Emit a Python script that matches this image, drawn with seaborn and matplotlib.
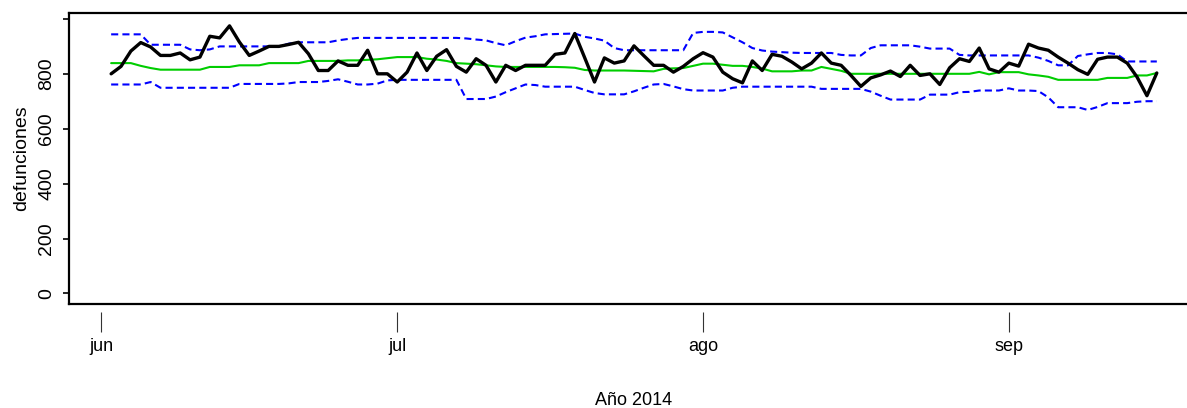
import numpy as np
import pandas as pd
import seaborn as sns
import matplotlib.pyplot as plt
import matplotlib.dates as mdates

# daily values (2 jun - 16 sep 2014)
fechas = pd.date_range("2014-06-02", periods=107, freq="D")

defunciones = [
    801, 828, 884, 915, 899, 868, 868, 877, 852, 862,
    938, 932, 976, 917, 868, 884, 901, 901, 908, 916,
    874, 813, 813, 848, 832, 832, 887, 801, 801, 771,
    807, 877, 813, 865, 889, 828, 807, 856, 832, 771,
    832, 813, 832, 832, 832, 872, 877, 948, 860, 771,
    859, 840, 848, 903, 867, 832, 832, 807, 828, 856,
    878, 862, 807, 783, 768, 848, 813, 872, 865, 844,
    819, 840, 877, 840, 832, 795, 755, 786, 797, 811,
    791, 832, 795, 801, 762, 823, 856, 846, 895, 819,
    807, 840, 829, 909, 895, 887, 862, 840, 816, 799,
    854, 862, 862, 840, 789, 721, 804,
]

esperadas = [
    840, 840, 840, 830, 822, 816, 816, 816, 816, 816,
    826, 826, 826, 832, 832, 832, 840, 840, 840, 840,
    848, 848, 848, 848, 850, 850, 852, 854, 858, 862,
    862, 862, 856, 853, 848, 840, 838, 836, 832, 828,
    826, 826, 826, 826, 826, 826, 825, 823, 815, 813,
    813, 813, 813, 812, 811, 810, 819, 821, 822, 830,
    838, 838, 834, 830, 830, 826, 820, 810, 810, 810,
    813, 813, 826, 819, 812, 801, 801, 801, 801, 801,
    801, 801, 801, 801, 801, 801, 801, 801, 808, 799,
    807, 807, 807, 799, 795, 790, 779, 779, 779, 779,
    779, 786, 786, 786, 795, 795, 804,
]

limite_sup = [
    945, 945, 945, 945, 907, 907, 907, 907, 890, 887,
    890, 901, 901, 901, 901, 901, 901, 901, 911, 916,
    916, 916, 916, 923, 928, 932, 932, 932, 932, 932,
    932, 932, 932, 932, 932, 932, 930, 926, 923, 913,
    905, 920, 933, 938, 945, 946, 947, 948, 936, 930,
    922, 895, 887, 887, 887, 887, 887, 887, 887, 950,
    954, 954, 952, 934, 916, 895, 886, 882, 880, 878,
    877, 877, 877, 877, 870, 868, 868, 895, 905, 905,
    905, 905, 900, 893, 893, 893, 870, 868, 868, 868,
    868, 868, 868, 868, 860, 848, 832, 832, 866, 872,
    877, 877, 872, 846, 846, 846, 846,
]

limite_inf = [
    762, 762, 762, 762, 771, 750, 750, 750, 750, 750,
    750, 750, 750, 764, 764, 764, 764, 764, 766, 771,
    771, 771, 775, 781, 772, 762, 762, 765, 777, 779,
    779, 779, 779, 779, 779, 779, 709, 709, 709, 718,
    734, 748, 762, 760, 754, 754, 754, 754, 742, 731,
    726, 726, 726, 737, 750, 762, 764, 755, 745, 740,
    740, 740, 740, 750, 754, 754, 754, 754, 754, 754,
    754, 754, 746, 746, 746, 746, 746, 736, 721, 707,
    707, 707, 707, 725, 725, 725, 734, 735, 740, 740,
    740, 748, 740, 740, 738, 715, 679, 679, 679, 669,
    680, 694, 694, 694, 699, 701, 701,
]

y_ticks = [0, 200, 400, 600, 800, 1000]
y_labels = ["0", "200", "400", "600", "800", ""]
mes_ticks = pd.to_datetime(["2014-06-01", "2014-07-01", "2014-08-01", "2014-09-01"])
mes_labels = ["jun", "jul", "ago", "sep"]

df = pd.DataFrame({
    "fecha": fechas,
    "defunciones": defunciones,
    "esperadas": esperadas,
    "sup": limite_sup,
    "inf": limite_inf,
})

sns.set_style("white")
plt.rcParams["font.family"] = ["Liberation Sans", "DejaVu Sans"]
for k in ["text.color", "axes.labelcolor", "xtick.color", "ytick.color"]:
    plt.rcParams[k] = "black"

fig = plt.figure(figsize=(11.87, 4.08), dpi=100)
ax = fig.add_axes([0.0584, 0.2549, 0.9514, 0.714])

sns.lineplot(data=df, x="fecha", y="sup", color="#0000FF", lw=1.5,
             ax=ax).lines[-1].set_dashes((3.4, 2.0))
sns.lineplot(data=df, x="fecha", y="inf", color="#0000FF", lw=1.5,
             ax=ax).lines[-1].set_dashes((3.4, 2.0))
sns.lineplot(data=df, x="fecha", y="esperadas", color="#00CD00", lw=1.5, ax=ax)
sns.lineplot(data=df, x="fecha", y="defunciones", color="black", lw=2.4, ax=ax)

pad = pd.Timedelta(days=4.24)
ax.set_xlim(fechas[0] - pad, fechas[-1] + pad)
ax.set_ylim(-39, 1024)

for s in ax.spines.values():
    s.set_linewidth(1.6)
    s.set_color("black")

ax.set_yticks(y_ticks)
ax.set_yticklabels(y_labels, rotation=90, va="center", fontsize=14)
ax.tick_params(axis="y", left=True, direction="out", length=4.3, width=1.2, pad=6)
ax.tick_params(axis="x", bottom=False, labelbottom=False)
ax.set_ylabel("defunciones", fontsize=14, labelpad=6)
ax.set_xlabel("")

# month axis drawn a little below the box, as in base R
sec = ax.secondary_xaxis(-0.0275)
sec.set_xticks(mdates.date2num(mes_ticks))
sec.set_xticklabels(mes_labels, fontsize=13)
sec.spines["bottom"].set_visible(False)
sec.tick_params(axis="x", direction="out", length=14.4, width=0.8,
                color="#333333", pad=4)
sec.set_xlabel("Año 2014", fontsize=13, labelpad=27)

fig.savefig("out.png", dpi=100)
